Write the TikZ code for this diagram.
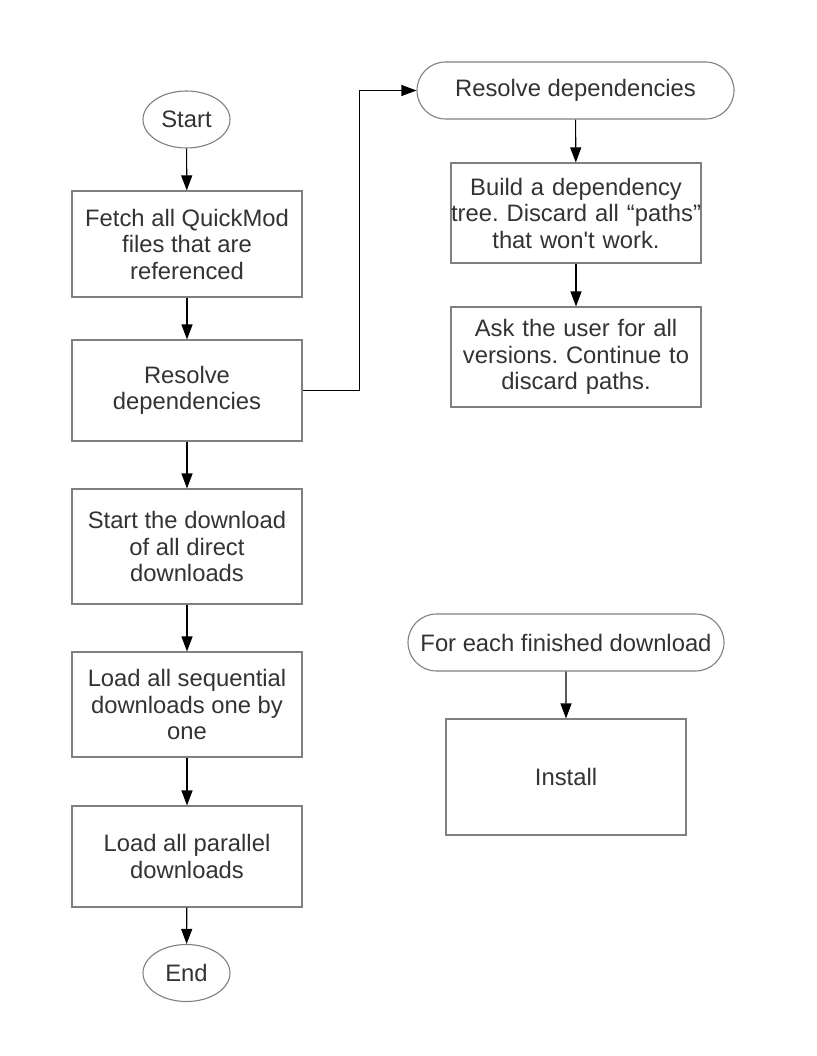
\documentclass[tikz,border=0pt]{standalone}
\usepackage{fontspec}
\setmainfont{Liberation Sans}[Ligatures=TeXOff]
\frenchspacing
\usetikzlibrary{arrows.meta,shapes.geometric,shapes.misc}
\definecolor{bordergray}{HTML}{808080}
\definecolor{textgray}{HTML}{333333}
\tikzset{
  base/.style={draw=bordergray, line width=1.1pt, text=textgray, align=center, inner sep=0pt,
    font=\fontsize{23.8}{26.5}\selectfont},
  procbox/.style={base, rectangle, minimum width=230pt},
  term/.style={base, ellipse, minimum width=87pt, minimum height=57pt},
  stadium/.style={base, rounded rectangle, minimum height=57pt},
  arr/.style={draw=black, line width=1.1pt, -{Triangle[length=15pt,width=11pt]}}
}
\begin{document}
\begin{tikzpicture}[x=1pt,y=-1pt]
\useasboundingbox[fill=white] (0,0) rectangle (816,1056);
% left column
\node[term] (start) at (186.5,119.5) {Start};
\node[procbox, minimum height=106pt] (fetch) at (187,244) {Fetch all QuickMod\\files that are\\referenced};
\node[procbox, minimum height=101pt] (resolve) at (187,390.5) {Resolve\\dependencies};
\node[procbox, minimum height=115pt] (direct) at (187,546.5) {Start the download\\of all direct\\downloads};
\node[procbox, minimum height=105pt] (seq) at (187,704.5) {Load all sequential\\downloads one by\\one};
\node[procbox, minimum height=101pt] (par) at (187,856.5) {Load all parallel\\downloads};
\node[term] (end) at (186.5,973) {End};
% right column top
\node[stadium, minimum width=317pt] (rdep) at (575.5,90.5) {Resolve dependencies};
\node[procbox, text width=250pt, minimum height=100pt] (tree) at (576,213) {Build a dependency\\tree. Discard all “paths”\\that won't work.};
\node[procbox, text width=250pt, minimum height=100pt] (ask) at (576,357) {Ask the user for all\\versions. Continue to\\discard paths.};
% right column bottom
\node[stadium, minimum width=316pt] (each) at (566,642.5) {For each finished download};
\node[procbox, minimum width=240pt, minimum height=116pt] (install) at (566,777) {Install};
% connectors
\draw[arr] (start) -- (fetch);
\draw[arr] (fetch) -- (resolve);
\draw[arr] (resolve) -- (direct);
\draw[arr] (direct) -- (seq);
\draw[arr] (seq) -- (par);
\draw[arr] (par) -- (end);
\draw[arr] (resolve.east) -- ++(57,0) |- (rdep.west);
\draw[arr] (rdep) -- (tree);
\draw[arr] (tree) -- (ask);
\draw[arr] (each) -- (install);
\end{tikzpicture}
\end{document}
